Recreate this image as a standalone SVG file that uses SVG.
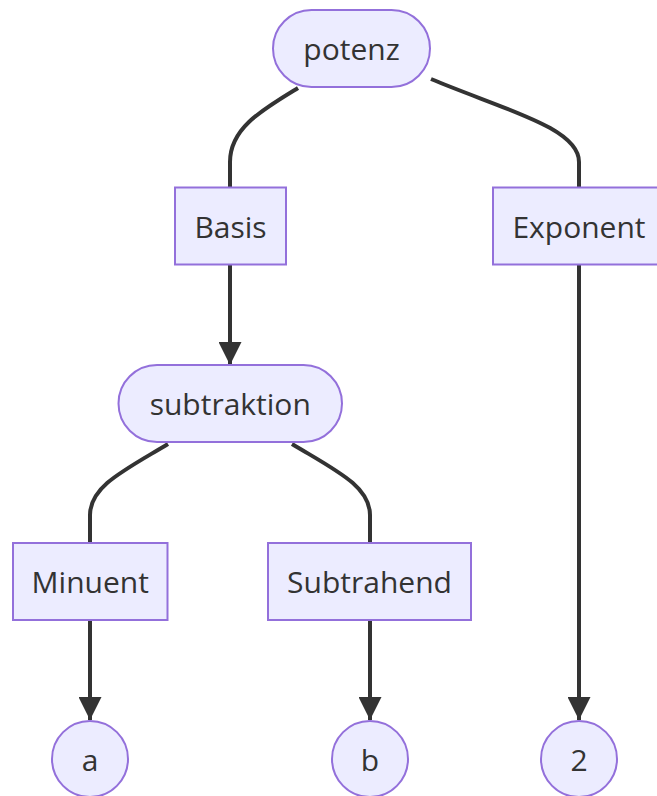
<svg xmlns="http://www.w3.org/2000/svg" width="657" height="796" viewBox="0 0 657 796">
<defs>
<style>
.node rect, .node circle { fill: #ECECFF; stroke: #9370DB; stroke-width: 2; }
.node text { font-family: "Open Sans", "Noto Sans", sans-serif; font-size: 30px; fill: #333333; text-anchor: middle; dominant-baseline: central; }
.edge { fill: none; stroke: #333333; stroke-width: 4; }
</style>
<marker id="arrow" viewBox="0 0 10 10" refX="10" refY="5" markerUnits="userSpaceOnUse" markerWidth="23" markerHeight="23" orient="auto">
<path d="M0,0 L10,5 L0,10 z" fill="#333333"/>
</marker>
</defs>
<rect width="657" height="796" fill="#ffffff"/>
<g id="connectors">
<path class="edge" d="M298,88 C262,110 230,128 230,162 L230,187"/>
<path class="edge" d="M431,79 C505,110 579,128 579,162 L579,187"/>
<path class="edge" d="M230,265 L230,365" marker-end="url(#arrow)"/>
<path class="edge" d="M168,444 C125,470 90,486 90,515 L90,542"/>
<path class="edge" d="M292,444 C335,470 370,486 370,515 L370,542"/>
<path class="edge" d="M90,620 L90,720" marker-end="url(#arrow)"/>
<path class="edge" d="M370,620 L370,720" marker-end="url(#arrow)"/>
<path class="edge" d="M579,265 L579,720" marker-end="url(#arrow)"/>
</g>
<g id="potenz" class="node">
<rect x="273" y="10" width="157" height="77" rx="38.5" ry="38.5"/>
<text x="351.5" y="48.5">potenz</text>
</g>
<g id="Basis" class="node">
<rect x="175" y="187.5" width="111" height="77"/>
<text x="230.5" y="226">Basis</text>
</g>
<g id="Exponent" class="node">
<rect x="493" y="187.5" width="172" height="77"/>
<text x="579" y="226">Exponent</text>
</g>
<g id="subtraktion" class="node">
<rect x="118.5" y="365" width="223.5" height="77" rx="38.5" ry="38.5"/>
<text x="230.25" y="403.5">subtraktion</text>
</g>
<g id="Minuent" class="node">
<rect x="13" y="543" width="154.5" height="77"/>
<text x="90.25" y="581.5">Minuent</text>
</g>
<g id="Subtrahend" class="node">
<rect x="268" y="543" width="203" height="77"/>
<text x="369.5" y="581.5">Subtrahend</text>
</g>
<g id="a" class="node">
<circle cx="90" cy="759" r="38"/>
<text x="90" y="759">a</text>
</g>
<g id="b" class="node">
<circle cx="370" cy="759" r="38"/>
<text x="370" y="759">b</text>
</g>
<g id="n2" class="node">
<circle cx="579" cy="759" r="38"/>
<text x="579" y="759">2</text>
</g>
</svg>
